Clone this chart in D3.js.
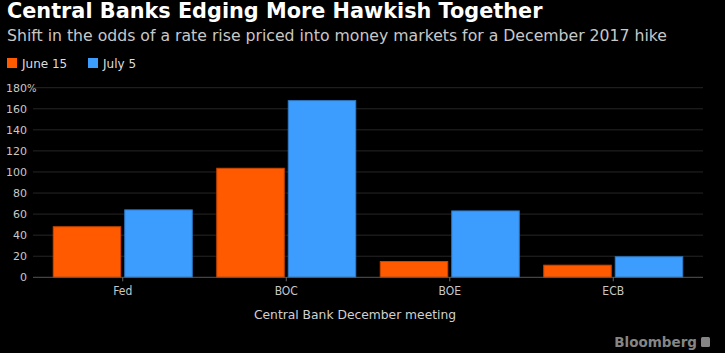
<!DOCTYPE html>
<html lang="en">
<head>
  <meta charset="UTF-8">
  <title>Central Banks Edging More Hawkish Together</title>
  <script src="https://d3js.org/d3.v7.min.js"></script>
  <style>
    * { margin: 0; padding: 0; box-sizing: border-box; }
    body { background: #000; font-family: "DejaVu Sans", sans-serif; }
  </style>
</head>
<body>
  <div id="chart"></div>
  <script>
    // data
    const banks = ["Fed", "BOC", "BOE", "ECB"];
    const seriesNames = ["June 15", "July 5"];
    const june15 = [48, 103.5, 15, 11.5];
    const july5 = [64, 167.7, 63, 19.5];
    const yTicks = [0, 20, 40, 60, 80, 100, 120, 140, 160, 180];

    const colors = ["#ff5a00", "#3d9dff"];
    const strokes = ["#c84600", "#2f7cc8"];

    const W = 725, H = 353;
    const svg = d3.select("#chart").append("svg")
      .attr("width", W).attr("height", H)
      .style("background", "#000");

    // title + subtitle
    svg.append("text")
      .attr("x", 7).attr("y", 18)
      .style("font-size", "20.8px").style("font-weight", "bold")
      .style("fill", "#fff")
      .text("Central Banks Edging More Hawkish Together");
    svg.append("text")
      .attr("x", 7).attr("y", 41)
      .style("font-size", "15.7px")
      .style("fill", "#c8c8c8")
      .text("Shift in the odds of a rate rise priced into money markets for a December 2017 hike");

    // legend
    const legend = svg.append("g").attr("transform", "translate(7,58)");
    const legX = [0, 81];
    seriesNames.forEach((s, i) => {
      const g = legend.append("g").attr("transform", `translate(${legX[i]},0)`);
      g.append("rect").attr("width", 10).attr("height", 10).attr("fill", colors[i]);
      g.append("text").attr("x", 15).attr("y", 9.5)
        .style("font-size", "12px").style("fill", "#ddd").text(s);
    });

    // scales
    const left = 33, right = 703;
    const y = d3.scaleLinear().domain([0, 180]).range([277.3, 87.7]);
    const x0 = d3.scaleBand().domain(banks).range([41, 695])
      .paddingInner(0.15).paddingOuter(0.075);
    const x1 = d3.scaleBand().domain(seriesNames).range([0, x0.bandwidth()])
      .padding(0.056).paddingOuter(0);

    // grid
    svg.append("g").selectAll("line")
      .data(yTicks.filter(d => d > 0))
      .join("line")
      .attr("x1", left).attr("x2", right)
      .attr("y1", d => y(d)).attr("y2", d => y(d))
      .attr("stroke", "#262626").attr("stroke-width", 1);

    // y labels
    svg.append("g").selectAll("text")
      .data(yTicks).join("text")
      .attr("x", 27).attr("y", d => y(d) + 4)
      .attr("text-anchor", "end")
      .style("font-size", "11px").style("fill", "#c8c8c8")
      .text(d => d);
    svg.append("text")
      .attr("x", 27).attr("y", y(180) + 4)
      .style("font-size", "10px").style("fill", "#c8c8c8")
      .text("%");

    // bars
    const data = banks.map((b, i) => ({ bank: b, vals: [june15[i], july5[i]] }));
    const groups = svg.append("g").selectAll("g")
      .data(data).join("g")
      .attr("transform", d => `translate(${x0(d.bank)},0)`);
    groups.selectAll("rect")
      .data(d => d.vals.map((v, i) => ({ s: seriesNames[i], v, i })))
      .join("rect")
      .attr("x", d => x1(d.s))
      .attr("y", d => y(d.v))
      .attr("width", x1.bandwidth())
      .attr("height", d => y(0) - y(d.v))
      .attr("fill", d => colors[d.i])
      .attr("stroke", d => strokes[d.i])
      .attr("stroke-width", 1);

    // x axis
    const xAxis = svg.append("g").attr("transform", `translate(0,${y(0)})`);
    xAxis.append("line").attr("x1", left).attr("x2", right)
      .attr("stroke", "#555").attr("stroke-width", 1);
    xAxis.selectAll(".tick").data(banks).join("line")
      .attr("x1", d => x0(d) + x0.bandwidth() / 2)
      .attr("x2", d => x0(d) + x0.bandwidth() / 2)
      .attr("y1", 0).attr("y2", 4)
      .attr("stroke", "#666");
    xAxis.selectAll("text").data(banks).join("text")
      .attr("x", d => x0(d) + x0.bandwidth() / 2)
      .attr("y", 18)
      .attr("text-anchor", "middle")
      .style("font-family", "'DejaVu Sans Condensed', sans-serif")
      .style("font-size", "12px").style("fill", "#c8c8c8")
      .text(d => d);

    svg.append("text")
      .attr("x", 355).attr("y", 319)
      .attr("text-anchor", "middle")
      .style("font-size", "12.3px").style("fill", "#d0d0d0")
      .text("Central Bank December meeting");

    // Bloomberg mark
    svg.append("text")
      .attr("x", 697).attr("y", 347)
      .attr("text-anchor", "end")
      .style("font-size", "13.5px").style("font-weight", "bold")
      .style("fill", "#858585")
      .text("Bloomberg");
    svg.append("rect")
      .attr("x", 701).attr("y", 337).attr("width", 9).attr("height", 10)
      .attr("rx", 1.5).attr("fill", "#858585");
  </script>
</body>
</html>
